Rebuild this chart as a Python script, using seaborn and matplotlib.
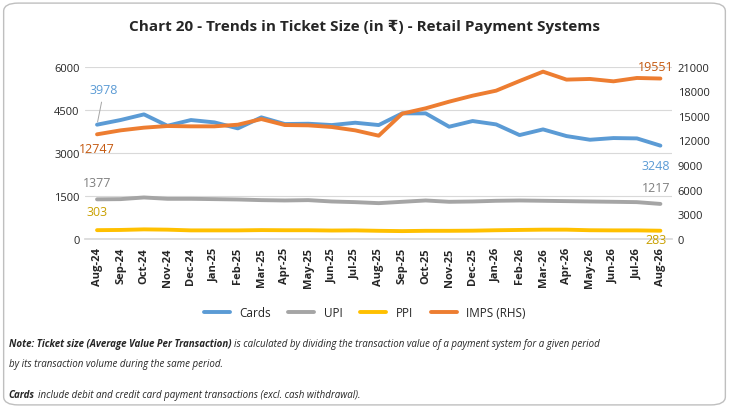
import seaborn as sns
import matplotlib.pyplot as plt
import pandas as pd
from matplotlib.patches import FancyBboxPatch

months = ["Aug-24", "Sep-24", "Oct-24", "Nov-24", "Dec-24", "Jan-25", "Feb-25", "Mar-25",
          "Apr-25", "May-25", "Jun-25", "Jul-25", "Aug-25", "Sep-25", "Oct-25", "Nov-25",
          "Dec-25", "Jan-26", "Feb-26", "Mar-26", "Apr-26", "May-26", "Jun-26", "Jul-26", "Aug-26"]
cards = [3978, 4140, 4337, 3940, 4140, 4058, 3849, 4233, 4000, 4011, 3965, 4046, 3965,
         4372, 4372, 3907, 4105, 3988, 3616, 3814, 3581, 3453, 3512, 3500, 3248]
upi = [1377, 1384, 1442, 1395, 1395, 1384, 1372, 1349, 1337, 1349, 1302, 1279, 1244,
       1291, 1337, 1291, 1302, 1326, 1337, 1326, 1314, 1302, 1291, 1279, 1217]
ppi = [303, 310, 330, 320, 295, 295, 295, 305, 300, 300, 290, 295, 280,
       270, 280, 280, 285, 300, 310, 320, 320, 300, 295, 295, 283]
imps = [12747, 13230, 13560, 13760, 13720, 13720, 13920, 14610, 13880, 13840, 13640, 13230, 12580,
        15270, 15920, 16730, 17460, 18070, 19250, 20390, 19420, 19500, 19210, 19620, 19551]

c_cards, c_upi, c_ppi, c_imps = "#5B9BD5", "#A5A5A5", "#FFC000", "#ED7D31"

sns.set_theme(style="white")
plt.rcParams['font.family'] = ['Open Sans', 'DejaVu Sans']

fig = plt.figure(figsize=(7.29, 4.10), dpi=100)
fig.patches.append(FancyBboxPatch((0.005, 0.01), 0.99, 0.98, boxstyle="round,pad=0,rounding_size=0.02",
                                  transform=fig.transFigure, fill=False, edgecolor="#BFBFBF", lw=1))
ax = fig.add_axes([0.117, 0.415, 0.805, 0.42])
ax2 = ax.twinx()

df = pd.DataFrame({"month": months, "Cards": cards, "UPI": upi, "PPI": ppi, "IMPS": imps})
x = list(range(len(months)))
sns.lineplot(x=x, y=df["Cards"], ax=ax, color=c_cards, lw=2.8, label="Cards", legend=False)
sns.lineplot(x=x, y=df["UPI"], ax=ax, color=c_upi, lw=2.8, label="UPI", legend=False)
sns.lineplot(x=x, y=df["PPI"], ax=ax, color=c_ppi, lw=2.8, label="PPI", legend=False)
sns.lineplot(x=x, y=df["IMPS"], ax=ax2, color=c_imps, lw=2.8, label="IMPS (RHS)", legend=False)

ax.set_ylim(0, 6000)
ax.set_yticks([0, 1500, 3000, 4500, 6000])
ax2.set_ylim(0, 21000)
ax2.set_yticks(range(0, 21001, 3000))
ax.set_xlim(-0.5, len(months) - 0.5)
ax.set_xticks(x)
ax.set_xticklabels(months, rotation=90, fontsize=8, fontweight="bold")
for a in (ax, ax2):
    a.tick_params(axis="y", labelsize=8, length=0, pad=4)
    for s in a.spines.values():
        s.set_visible(False)
    a.set_ylabel("")
ax.spines["bottom"].set_visible(True)
ax.spines["bottom"].set_color("#D9D9D9")
ax.tick_params(axis="x", length=4, color="#D9D9D9", pad=2)
ax.grid(axis="y", color="#D9D9D9", lw=0.8)
ax.set_axisbelow(True)

last = len(months) - 1
fs = 9
xr = last - 0.2
ax.annotate(str(cards[0]), (0, cards[0]), xytext=(0.3, 5200), color=c_cards, fontsize=fs,
            ha="center", va="center", arrowprops=dict(arrowstyle="-", color="#A5A5A5", lw=0.7))
ax.text(xr, cards[-1] - 450, str(cards[-1]), color=c_cards, fontsize=fs, ha="center", va="top")
ax.text(0, upi[0] + 350, str(upi[0]), color="#7F7F7F", fontsize=fs, ha="center", va="bottom")
ax.text(xr, upi[-1] + 350, str(upi[-1]), color="#7F7F7F", fontsize=fs, ha="center", va="bottom")
ax.text(0, ppi[0] + 420, str(ppi[0]), color="#C9A000", fontsize=fs, ha="center", va="bottom")
ax.text(xr, ppi[-1] - 80, str(ppi[-1]), color="#C9A000", fontsize=fs, ha="center", va="top")
ax2.text(0, imps[0] - 900, str(imps[0]), color="#C55A11", fontsize=fs, ha="center", va="top")
ax2.text(xr, imps[-1] + 700, str(imps[-1]), color="#C55A11", fontsize=fs, ha="center", va="bottom")

fig.text(0.5, 0.935, "Chart 20 - Trends in Ticket Size (in ₹) - Retail Payment Systems",
         ha="center", va="center", fontsize=11, fontweight="bold")

h1, l1 = ax.get_legend_handles_labels()
h2, l2 = ax2.get_legend_handles_labels()
fig.legend(h1 + h2, l1 + l2, loc="center", bbox_to_anchor=(0.5, 0.235), ncol=4, frameon=False,
           fontsize=8.5, handlelength=2.2, columnspacing=1.5)

note_kw = dict(fontsize=7, style="italic", va="center")
t = fig.text(0.012, 0.16, "Note: Ticket size (Average Value Per Transaction)", fontweight="bold", **note_kw)
fig.canvas.draw()
bb = t.get_window_extent().transformed(fig.transFigure.inverted())
fig.text(bb.x1 + 0.004, 0.16, "is calculated by dividing the transaction value of a payment system for a given period",
         **note_kw)
fig.text(0.012, 0.11, "by its transaction volume during the same period.", **note_kw)
t2 = fig.text(0.012, 0.035, "Cards", fontweight="bold", **note_kw)
fig.canvas.draw()
bb2 = t2.get_window_extent().transformed(fig.transFigure.inverted())
fig.text(bb2.x1 + 0.004, 0.035, "include debit and credit card payment transactions (excl. cash withdrawal).",
         **note_kw)

fig.savefig("out.png", dpi=100)
